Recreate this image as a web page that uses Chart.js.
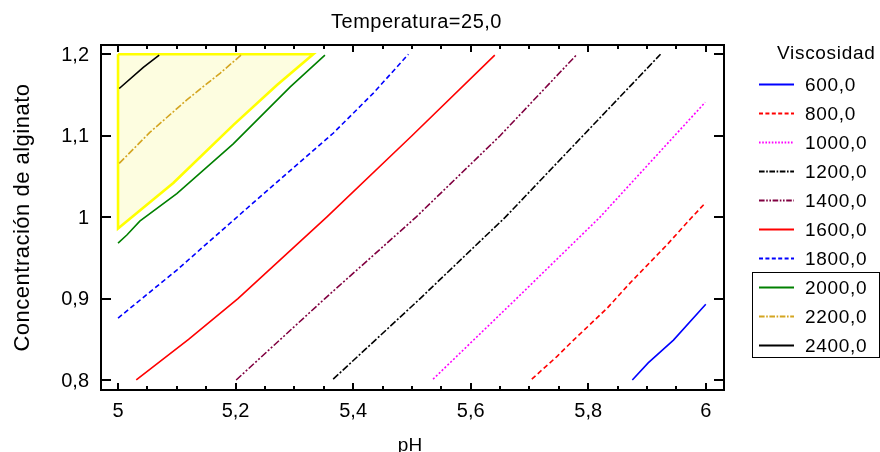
<!DOCTYPE html>
<html lang="es">
<head>
  <meta charset="UTF-8">
  <title>Temperatura=25,0</title>
  <style>
    html, body { margin: 0; padding: 0; background: #fff; }
    canvas { display: block; }
  </style>
  <script src="https://cdn.jsdelivr.net/npm/chart.js"></script>
</head>
<body>
  <canvas id="contourChart" width="880" height="452"></canvas>

  <script>
    // contour levels (legend text)
    const levels = ['600,0', '800,0', '1000,0', '1200,0', '1400,0', '1600,0', '1800,0', '2000,0', '2200,0', '2400,0'];

    // pH / concentration points
    const ph600 = [5.875, 5.902, 5.945, 6.0];
    const conc600 = [0.800, 0.821, 0.849, 0.893];
    const ph800 = [5.704, 5.747, 5.775, 5.832, 5.871, 5.934, 5.974, 6.0];
    const conc800 = [0.801, 0.829, 0.849, 0.888, 0.919, 0.966, 0.998, 1.018];
    const ph1000 = [5.536, 5.678, 5.820, 5.947, 5.999];
    const conc1000 = [0.801, 0.900, 1.000, 1.100, 1.141];
    const ph1200 = [5.366, 5.514, 5.659, 5.791, 5.923];
    const conc1200 = [0.801, 0.900, 1.000, 1.100, 1.200];
    const ph1400 = [5.201, 5.352, 5.507, 5.650, 5.781];
    const conc1400 = [0.800, 0.900, 1.000, 1.100, 1.200];
    const ph1600 = [5.031, 5.120, 5.204, 5.355, 5.500, 5.641];
    const conc1600 = [0.800, 0.850, 0.900, 1.000, 1.100, 1.199];
    const ph1800 = [5.0, 5.100, 5.196, 5.264, 5.366, 5.434, 5.494];
    const conc1800 = [0.876, 0.935, 0.996, 1.039, 1.103, 1.152, 1.200];
    const ph2000 = [5.0, 5.015, 5.037, 5.100, 5.196, 5.293, 5.352];
    const conc2000 = [0.968, 0.978, 0.995, 1.029, 1.090, 1.160, 1.199];
    const ph2200 = [5.002, 5.054, 5.117, 5.174, 5.211];
    const conc2200 = [1.066, 1.104, 1.144, 1.177, 1.200];
    const ph2400 = [5.002, 5.043, 5.070];
    const conc2400 = [1.158, 1.184, 1.199];

    // highlighted (yellow) region
    const phRegion = [5.0, 5.332, 5.270, 5.196, 5.094, 5.0, 5.0];
    const concRegion = [1.200, 1.200, 1.162, 1.113, 1.042, 0.986, 1.200];

    // axis ticks
    const xTickVals = [5, 5.2, 5.4, 5.6, 5.8, 6];
    const xTickLabels = ['5', '5,2', '5,4', '5,6', '5,8', '6'];
    const yTickVals = [0.8, 0.9, 1.0, 1.1, 1.2];
    const yTickLabels = ['0,8', '0,9', '1', '1,1', '1,2'];

    const FONT = '"Liberation Sans", Arial, sans-serif';

    const toPoints = (xs, ys) => xs.map((v, i) => ({ x: v, y: ys[i] }));

    const lineSet = (label, xs, ys, color, dash) => ({
      label: label,
      data: toPoints(xs, ys),
      borderColor: color,
      borderWidth: 1.6,
      borderDash: dash,
      pointRadius: 0,
      showLine: true,
      fill: false
    });

    const datasets = [
      lineSet(levels[0], ph600, conc600, '#0000ff', []),
      lineSet(levels[1], ph800, conc800, '#ff0000', [5, 3]),
      lineSet(levels[2], ph1000, conc1000, '#ff00ff', [2, 2]),
      lineSet(levels[3], ph1200, conc1200, '#000000', [7, 2, 2, 2]),
      lineSet(levels[4], ph1400, conc1400, '#800040', [7, 2, 2, 2, 2, 2]),
      lineSet(levels[5], ph1600, conc1600, '#ff0000', []),
      lineSet(levels[6], ph1800, conc1800, '#0000ff', [5, 3]),
      lineSet(levels[7], ph2000, conc2000, '#008000', []),
      lineSet(levels[8], ph2200, conc2200, '#d4a520', [7, 2, 2, 2]),
      lineSet(levels[9], ph2400, conc2400, '#000000', []),
      {
        label: 'region',
        data: toPoints(phRegion, concRegion),
        borderColor: '#ffff00',
        borderWidth: 2.6,
        backgroundColor: '#fdfde0',
        pointRadius: 0,
        showLine: true,
        fill: 'shape'
      }
    ];

    // frame, inward ticks, labels, titles and legend
    const decorations = {
      id: 'decorations',
      afterDraw(chart) {
        const { ctx, chartArea: a, scales: { x, y } } = chart;
        ctx.save();
        ctx.strokeStyle = '#000';
        ctx.fillStyle = '#000';
        ctx.lineWidth = 2;
        ctx.strokeRect(a.left, a.top, a.right - a.left, a.bottom - a.top);

        ctx.beginPath();
        xTickVals.forEach(v => {
          const px = Math.round(x.getPixelForValue(v));
          ctx.moveTo(px, a.bottom); ctx.lineTo(px, a.bottom - 7);
          ctx.moveTo(px, a.top); ctx.lineTo(px, a.top + 7);
        });
        for (let v = 5.05; v < 6; v += 0.05) {
          const px = Math.round(x.getPixelForValue(v));
          ctx.moveTo(px, a.bottom); ctx.lineTo(px, a.bottom - 4);
          ctx.moveTo(px, a.top); ctx.lineTo(px, a.top + 4);
        }
        yTickVals.forEach(v => {
          const py = Math.round(y.getPixelForValue(v));
          ctx.moveTo(a.left, py); ctx.lineTo(a.left + 10, py);
          ctx.moveTo(a.right, py); ctx.lineTo(a.right - 10, py);
        });
        ctx.stroke();

        ctx.font = '20px ' + FONT;
        ctx.textAlign = 'center';
        ctx.textBaseline = 'middle';
        xTickVals.forEach((v, i) => {
          ctx.fillText(xTickLabels[i], x.getPixelForValue(v), 411);
        });
        ctx.textAlign = 'right';
        yTickVals.forEach((v, i) => {
          ctx.fillText(yTickLabels[i], 89, y.getPixelForValue(v) + 1);
        });

        // titles
        ctx.textAlign = 'center';
        ctx.letterSpacing = '0.5px';
        ctx.fillText('Temperatura=25,0', (a.left + a.right) / 2 + 4, 22);
        ctx.letterSpacing = '0px';
        ctx.font = '19px ' + FONT;
        ctx.textBaseline = 'alphabetic';
        ctx.fillText('pH', 410, 451);

        ctx.save();
        ctx.translate(29, (a.top + a.bottom) / 2);
        ctx.rotate(-Math.PI / 2);
        ctx.font = '22px ' + FONT;
        ctx.letterSpacing = '0.5px';
        ctx.fillText('Concentración de alginato', 0, 0);
        ctx.restore();

        // legend
        ctx.font = '19px ' + FONT;
        ctx.letterSpacing = '0.7px';
        ctx.textAlign = 'left';
        ctx.textBaseline = 'middle';
        ctx.fillText('Viscosidad', 777, 54);
        levels.forEach((lab, i) => {
          const ds = chart.data.datasets[i];
          const ly = 84.5 + i * 29;
          ctx.save();
          ctx.strokeStyle = ds.borderColor;
          ctx.lineWidth = 2;
          ctx.setLineDash(ds.borderDash.map(d => d * 0.8));
          ctx.beginPath();
          ctx.moveTo(759, ly); ctx.lineTo(794, ly);
          ctx.stroke();
          ctx.restore();
          ctx.fillText(lab, 805, ly + 1);
        });
        ctx.lineWidth = 1;
        ctx.strokeStyle = '#000';
        ctx.strokeRect(752.5, 272.5, 127, 85);
        ctx.restore();
      }
    };

    const ctxContour = document.getElementById('contourChart').getContext('2d');
    const contourChart = new Chart(ctxContour, {
      type: 'scatter',
      data: { datasets: datasets },
      options: {
        responsive: false,
        animation: false,
        layout: { padding: { left: 101, right: 156, top: 45, bottom: 62 } },
        scales: {
          x: { type: 'linear', min: 4.971, max: 6.031, display: false },
          y: { type: 'linear', min: 0.7877, max: 1.2114, display: false }
        },
        plugins: {
          legend: { display: false },
          tooltip: { enabled: false }
        }
      },
      plugins: [decorations]
    });
  </script>
</body>
</html>
